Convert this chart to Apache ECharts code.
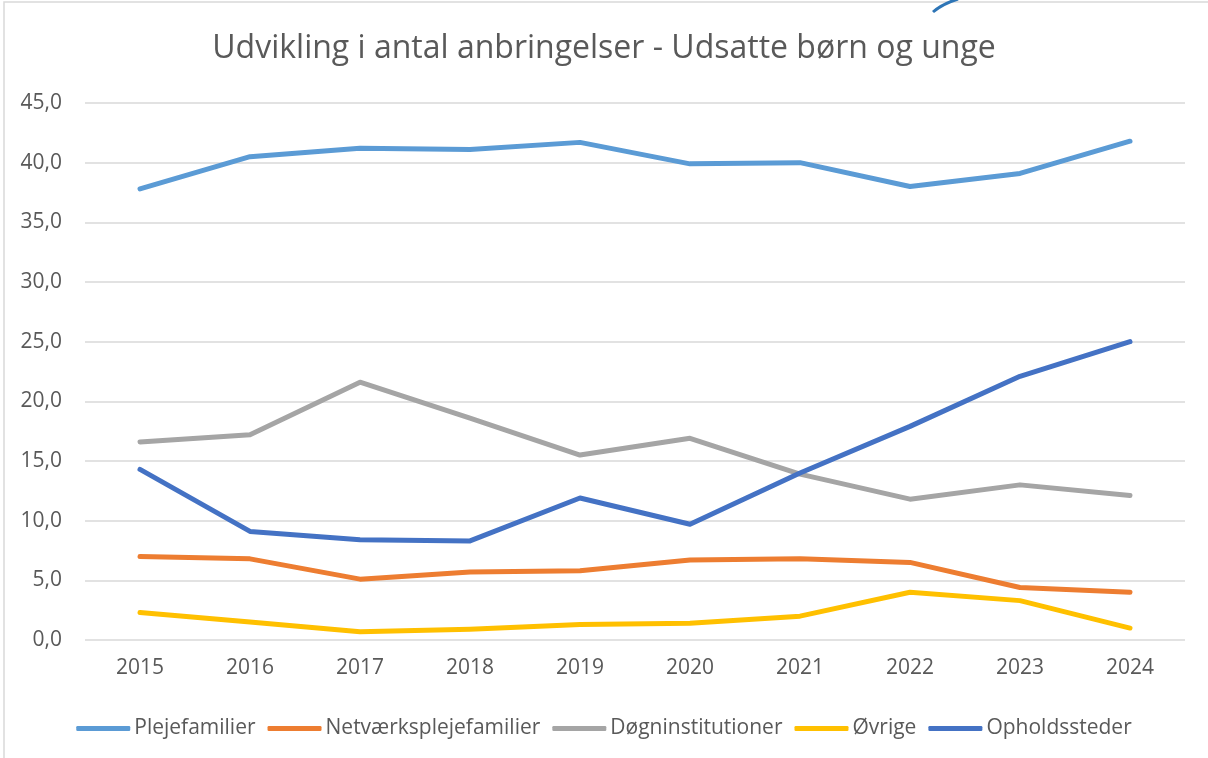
<!DOCTYPE html>
<html style="height: 100%">
<head>
	<meta charset="utf-8">
	<script src="https://cdn.jsdelivr.net/npm/echarts@6/dist/echarts.min.js"></script>
</head>
<body style="height: 100%; margin: 0; background: #fff">
	<div id="container" style="width: 1208px; height: 758px"></div>
	<script type="text/javascript">
		let years = ['2015', '2016', '2017', '2018', '2019', '2020', '2021', '2022', '2023', '2024'];
		let plejefamilier = [37.8, 40.5, 41.2, 41.1, 41.7, 39.9, 40.0, 38.0, 39.1, 41.8];
		let netvaerk = [7.0, 6.8, 5.1, 5.7, 5.8, 6.7, 6.8, 6.5, 4.4, 4.0];
		let doegn = [16.6, 17.2, 21.6, 18.6, 15.5, 16.9, 13.9, 11.8, 13.0, 12.1];
		let oevrige = [2.3, 1.5, 0.7, 0.9, 1.3, 1.4, 2.0, 4.0, 3.3, 1.0];
		let opholdssteder = [14.3, 9.1, 8.4, 8.3, 11.9, 9.7, 14.0, 17.9, 22.1, 25.0];

		let names = ['Plejefamilier', 'Netværksplejefamilier', 'Døgninstitutioner', 'Øvrige', 'Opholdssteder'];
		let values = [plejefamilier, netvaerk, doegn, oevrige, opholdssteder];
		let colors = ['#5B9BD5', '#ED7D31', '#A5A5A5', '#FFC000', '#4472C4'];

		let dom = document.getElementById('container');
		let myChart = echarts.init(dom);
		let font = 'Open Sans';

		let series = names.map(function (n, i) {
			return {
				name: n,
				type: 'line',
				symbol: 'none',
				data: values[i],
				lineStyle: { width: 5, color: colors[i], cap: 'round', join: 'round' },
				itemStyle: { color: colors[i] }
			};
		});

		let option = {
			animation: false,
			color: colors,
			title: {
				text: 'Udvikling i antal anbringelser - Udsatte børn og unge',
				left: 'center',
				top: 28,
				textStyle: { fontFamily: font, fontSize: 32, fontWeight: 'normal', color: '#595959' }
			},
			legend: {
				top: 713,
				left: 'center',
				icon: 'roundRect',
				itemWidth: 54,
				itemHeight: 5,
				itemGap: 12,
				textStyle: { fontFamily: font, fontSize: 21, color: '#595959', padding: [0, 0, 0, -1] },
				data: names
			},
			grid: { left: 85, right: 23, top: 103, bottom: 118 },
			xAxis: {
				type: 'category',
				data: years,
				axisLine: { show: false },
				axisTick: { show: false },
				axisLabel: { fontFamily: font, fontSize: 21, color: '#595959', margin: 18 }
			},
			yAxis: {
				type: 'value',
				min: 0,
				max: 45,
				interval: 5,
				axisLine: { show: false },
				axisTick: { show: false },
				splitLine: { lineStyle: { color: '#D9D9D9', width: 1.5 } },
				axisLabel: {
					fontFamily: font, fontSize: 21, color: '#595959', margin: 23,
					formatter: function (v) { return v.toFixed(1).replace('.', ','); }
				}
			},
			graphic: [
				{
					type: 'rect',
					shape: { x: 4, y: 2, width: 1400, height: 1000 },
					style: { fill: 'none', stroke: '#D9D9D9', lineWidth: 1.5 },
					silent: true
				},
				{
					type: 'bezierCurve',
					shape: { x1: 933, y1: 12, x2: 958, y2: -1, cpx1: 942, cpy1: 4 },
					style: { stroke: '#2E75B6', lineWidth: 3, fill: 'none' },
					silent: true
				}
			],
			series: series
		};

		myChart.setOption(option);
	</script>
</body>
</html>
